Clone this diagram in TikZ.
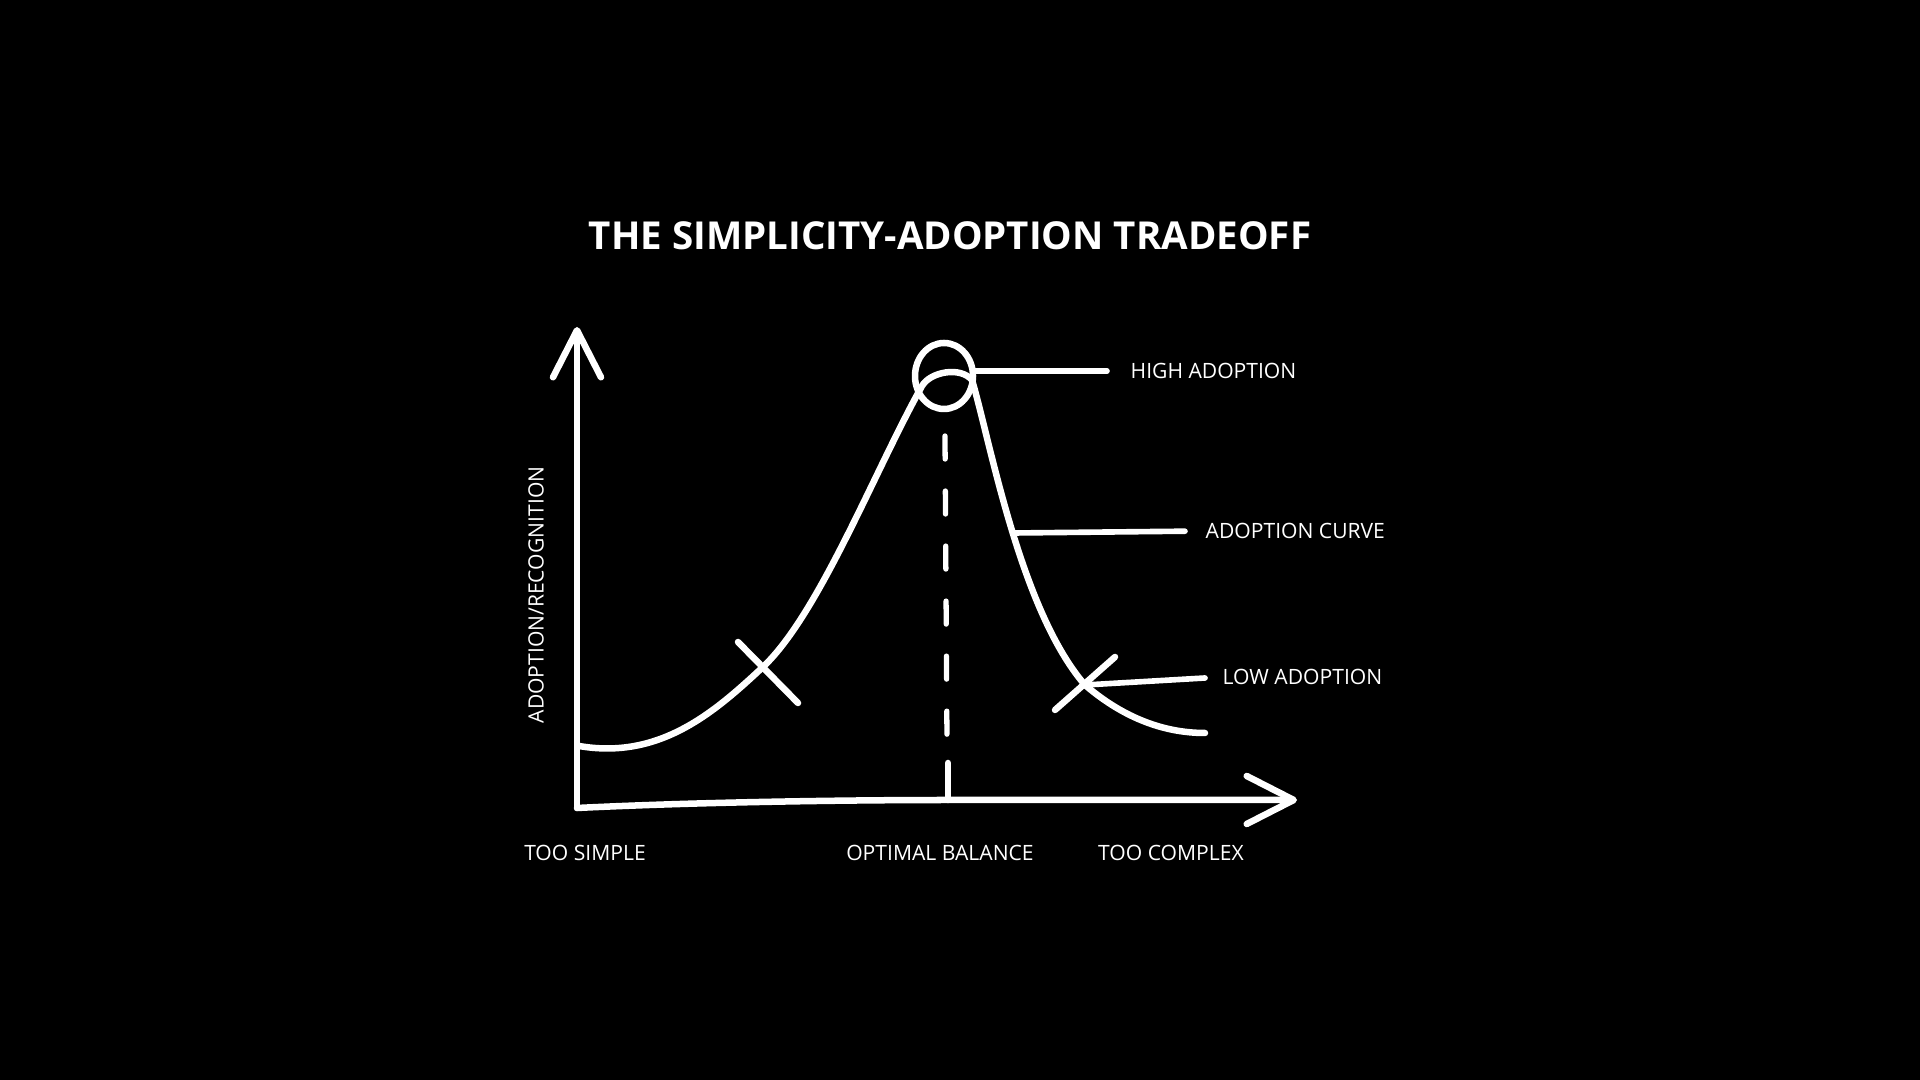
\documentclass[tikz,border=0pt]{standalone}
\usepackage{fontspec}
\setmainfont{Open Sans}
\usetikzlibrary{arrows.meta,positioning}
\tikzset{%
	stroke/.style    = {draw=white, line width=1.85pt, line cap=round, line join=round}, % hand drawn line
	axisline/.style  = {stroke, -{Straight Barb[length=4.7mm, width=4.8mm, round]}}, % axis with open tip
	leader/.style    = {stroke, line width=1.6pt}, % callout line
	guide/.style     = {stroke, line width=1.5pt, dash pattern=on 2.3mm off 3.2mm}, % dashed optimum
	smalltext/.style = {text=white, font=\fontsize{6}{7}\selectfont, inner sep=0pt}, % caption
	heading/.style   = {text=white, font=\fontsize{10.95}{13}\selectfont\bfseries, inner sep=0pt}, % title
}

\begin{document}
\begin{tikzpicture}[x=0.01cm, y=-0.01cm]
	\fill[black] (0,0) rectangle (1920,1080);
	\useasboundingbox (0,0) rectangle (1920,1080);
	
	\node[heading] (title) at (950,236) {THE SIMPLICITY-ADOPTION TRADEOFF};
	\node[smalltext, rotate=90] (ylabel) at (536,595) {ADOPTION/RECOGNITION};
	\node[smalltext] (simple) at (585,853) {TOO SIMPLE};
	\node[smalltext] (optimal) at (940,853) {OPTIMAL BALANCE};
	\node[smalltext] (complex) at (1171,853) {TOO COMPLEX};
	\node[smalltext, anchor=west] (high) at (1130,371) {HIGH ADOPTION};
	\node[smalltext, anchor=west] (curvelbl) at (1205,531) {ADOPTION CURVE};
	\node[smalltext, anchor=west] (low) at (1222,677) {LOW ADOPTION};
	
	\coordinate (origin) at (577,808);
	\coordinate (ytip) at (577,327);
	\coordinate (xtip) at (1297,800);
	\coordinate (peak) at (944,376);
	\coordinate (peakr) at (973,371);
	\coordinate (slope) at (1014,533);
	\coordinate (tail) at (1085,685);
	\coordinate (dashtop) at (945,436);
	\coordinate (dashend) at (947,742);
	\coordinate (tick) at (948,763);
	\coordinate (tickfoot) at (948,800);
	
	% axes
	\draw[axisline] (origin) -- (ytip);
	\draw[axisline] (origin) .. controls (700,802) and (850,800) .. (950,800) -- (xtip);
	
	% adoption curve
	\draw[stroke] (579,746) .. controls (660,760) and (715,712) .. (764,666)
		.. controls (820,612) and (875,470) .. (922,386)
		.. controls (930,372) and (960,366) .. (972,380)
		.. controls (990,440) and (1020,610) .. (tail)
		.. controls (1120,715) and (1160,733) .. (1205,733);
	\draw[stroke] (peak) ellipse [x radius=29, y radius=33];
	\draw[stroke] (738,642) -- (798,703);
	\draw[stroke] (1055,710) -- (1115,657);
	
	% optimum marker
	\draw[guide] (dashtop) -- (dashend);
	\draw[stroke] (tick) -- (tickfoot);
	
	% callouts
	\draw[leader, shorten >=2.3mm] (peakr) -- (high.west);
	\draw[leader, shorten >=2mm] (slope) -- (curvelbl.west);
	\draw[leader, shorten >=1.7mm] (tail) -- (low.west);
\end{tikzpicture}
\end{document}
